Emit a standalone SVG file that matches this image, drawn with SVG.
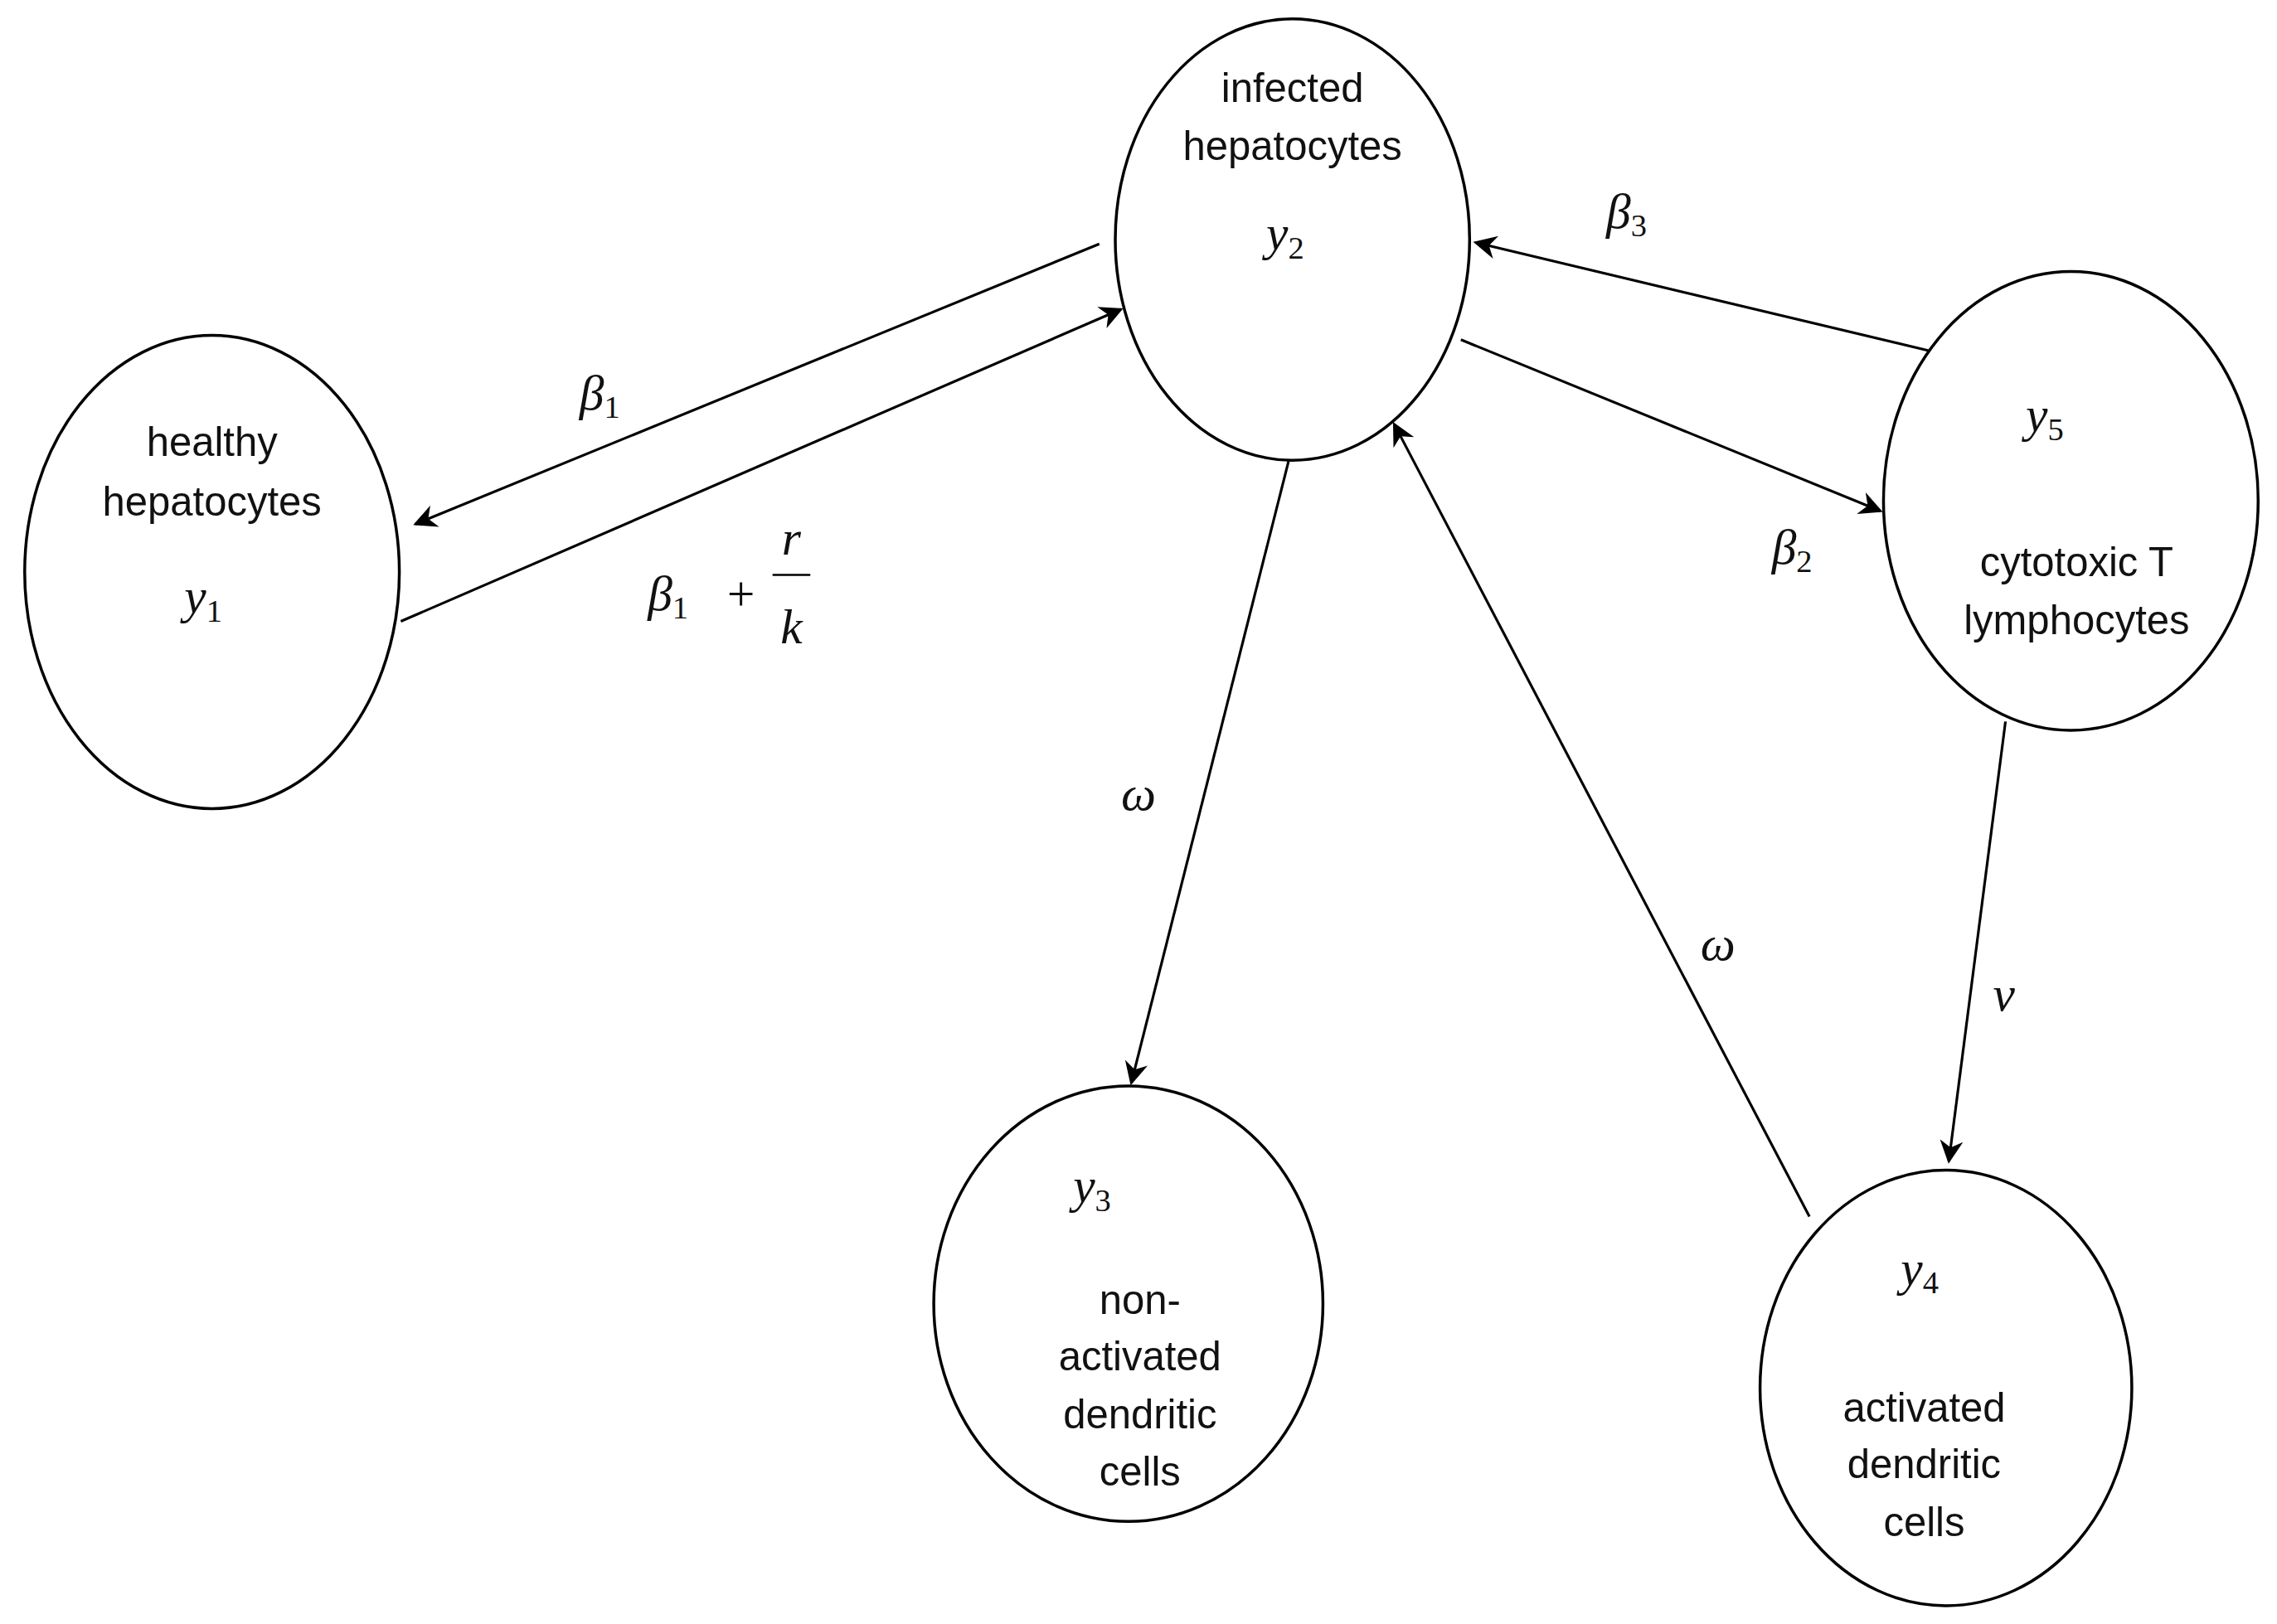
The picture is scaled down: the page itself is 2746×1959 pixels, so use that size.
<svg xmlns="http://www.w3.org/2000/svg" width="2746" height="1959" viewBox="0 0 2746 1959">
<defs>
<marker id="ah" viewBox="0 0 10 10" refX="9" refY="5" markerWidth="18" markerHeight="16" markerUnits="userSpaceOnUse" orient="auto"><path d="M0,0 L10,5 L0,10 L3,5 Z" fill="#000"/></marker>
<style>
.n ellipse{fill:#fff;stroke:#000;stroke-width:2}
.t{font-family:"Liberation Sans",Arial,sans-serif;font-size:28px;text-anchor:middle;fill:#111}
.m{font-family:"Liberation Serif","Times New Roman",serif;font-style:italic;font-size:34px;text-anchor:middle;fill:#111}
.s{font-size:22px;font-style:normal}
#edges line{stroke:#000;stroke-width:1.8;marker-end:url(#ah)}
</style>
</defs>
<rect width="2746" height="1959" fill="#fff"/>
<g transform="scale(1.7513)">
<g id="edges">
<line x1="757" y1="168" x2="286" y2="361"/>
<line x1="276" y1="428" x2="772" y2="213"/>
<line x1="1006" y1="234" x2="1295" y2="352"/>
<line x1="1330" y1="242" x2="1016" y2="167"/>
<line x1="888" y1="315" x2="779" y2="746"/>
<line x1="1246" y1="838" x2="960" y2="292"/>
<line x1="1381" y1="497" x2="1342" y2="800"/>
</g>
<g id="labels">
<text class="m" x="413" y="282">β<tspan class="s" dy="6">1</tspan></text>
<text class="m" x="460" y="420">β<tspan class="s" dy="6">1</tspan></text>
<text class="m" x="510" y="420" font-style="normal">+</text>
<text class="m" x="545" y="382">r</text>
<line x1="532" y1="396" x2="558" y2="396" stroke="#000" stroke-width="1.5"/>
<text class="m" x="545" y="443">k</text>
<text class="m" x="1120" y="157">β<tspan class="s" dy="6">3</tspan></text>
<text class="m" x="1234" y="388">β<tspan class="s" dy="6">2</tspan></text>
<text class="m" x="784" y="558">ω</text>
<text class="m" x="1183" y="661">ω</text>
<text class="m" x="1380" y="696">ν</text>
</g>
<g id="y1" class="n"><ellipse cx="146" cy="394" rx="129" ry="163"/>
<text class="t" x="146" y="314">healthy</text><text class="t" x="146" y="355">hepatocytes</text>
<text class="m" x="140" y="422">y<tspan class="s" dy="6">1</tspan></text></g>
<g id="y2" class="n"><ellipse cx="890" cy="165" rx="122" ry="152"/>
<text class="t" x="890" y="70">infected</text><text class="t" x="890" y="110">hepatocytes</text>
<text class="m" x="885" y="172">y<tspan class="s" dy="6">2</tspan></text></g>
<g id="y3" class="n"><ellipse cx="777" cy="898" rx="134" ry="150"/>
<text class="m" x="752" y="828">y<tspan class="s" dy="6">3</tspan></text>
<text class="t" x="785" y="905">non-</text><text class="t" x="785" y="944">activated</text><text class="t" x="785" y="984">dendritic</text><text class="t" x="785" y="1023">cells</text></g>
<g id="y4" class="n"><ellipse cx="1340" cy="956" rx="128" ry="150"/>
<text class="m" x="1322" y="885">y<tspan class="s" dy="6">4</tspan></text>
<text class="t" x="1325" y="979">activated</text><text class="t" x="1325" y="1018">dendritic</text><text class="t" x="1325" y="1058">cells</text></g>
<g id="y5" class="n"><ellipse cx="1426" cy="345" rx="129" ry="158"/>
<text class="m" x="1408" y="297">y<tspan class="s" dy="6">5</tspan></text>
<text class="t" x="1430" y="397">cytotoxic T</text><text class="t" x="1430" y="437">lymphocytes</text></g>
</g>
</svg>
